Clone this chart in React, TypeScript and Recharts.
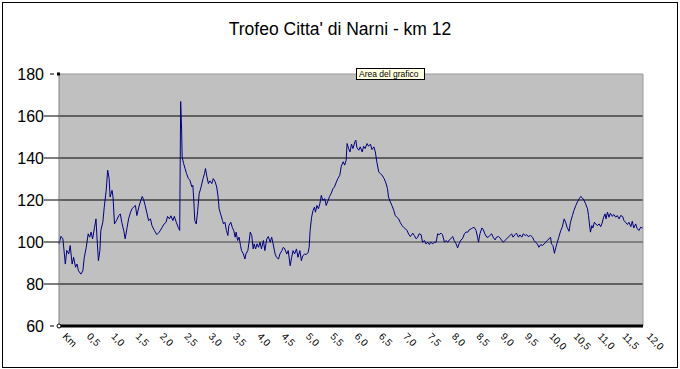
import React from "react";
import { LineChart, Line, XAxis, YAxis, CartesianGrid, ReferenceLine } from "recharts";

const chartTitle = "Trofeo Citta' di Narni - km 12";
const hintText = "Area del grafico";

const yTicks = [60, 80, 100, 120, 140, 160, 180];
const yGridValues = [80, 120, 140, 160];

const xTicks = [0, 0.5, 1, 1.5, 2, 2.5, 3, 3.5, 4, 4.5, 5, 5.5, 6, 6.5, 7, 7.5, 8, 8.5, 9, 9.5, 10, 10.5, 11, 11.5, 12];
const xLabels = ["Km", "0,5", "1,0", "1,5", "2,0", "2,5", "3,0", "3,5", "4,0", "4,5", "5,0", "5,5", "6,0", "6,5", "7,0", "7,5", "8,0", "8,5", "9,0", "9,5", "10,0", "10,5", "11,0", "11,5", "12,0"];

// [km, bpm]
const trace: [number, number][] = [
  [0, 99], [0.04, 102.7], [0.08, 101.5], [0.13, 89.5], [0.16, 96], [0.2, 94.3], [0.23, 98.3], [0.27, 89.5],
  [0.3, 92.7], [0.34, 88], [0.37, 89.5], [0.4, 86.3], [0.45, 84.7], [0.49, 86.3], [0.52, 92.7], [0.56, 97.5],
  [0.6, 103.9], [0.63, 102.3], [0.66, 104.7], [0.69, 101.5], [0.73, 107], [0.76, 111], [0.78, 102.3], [0.81, 91.1],
  [0.84, 95.9], [0.86, 105.5], [0.9, 109.4], [0.93, 116.6], [0.97, 124.6], [1.0, 134.2], [1.03, 130.2], [1.05, 121.4],
  [1.09, 124.6], [1.11, 121.4], [1.14, 108.6], [1.18, 110.2], [1.23, 112.6], [1.26, 113.4], [1.29, 109.4], [1.33, 105.5],
  [1.36, 101.5], [1.4, 107], [1.43, 111], [1.47, 114.2], [1.5, 115.8], [1.53, 116.6], [1.57, 117.4], [1.6, 112.6],
  [1.64, 116.6], [1.67, 119], [1.71, 121.7], [1.74, 120.1], [1.77, 117.4], [1.81, 113.4], [1.84, 110.2], [1.88, 111],
  [1.91, 107.8], [1.96, 105.5], [2.01, 103.5], [2.06, 104.7], [2.12, 107], [2.16, 108.6], [2.2, 109.4], [2.23, 112.2],
  [2.27, 111], [2.3, 112.5], [2.34, 110.2], [2.37, 112.2], [2.41, 109.4], [2.45, 107], [2.48, 105.5], [2.5, 166.9],
  [2.52, 153.3], [2.53, 140.5], [2.56, 137.4], [2.59, 135], [2.62, 132.6], [2.66, 130.2], [2.69, 129.4], [2.73, 126.2],
  [2.75, 127], [2.77, 119.8], [2.79, 110.2], [2.82, 108.6], [2.85, 115], [2.88, 123], [2.92, 126.2], [2.96, 130.2],
  [2.99, 132.6], [3.01, 135], [3.04, 131], [3.07, 127.8], [3.1, 129.1], [3.14, 127.8], [3.17, 130.2], [3.21, 128.6],
  [3.24, 126.2], [3.27, 121.4], [3.29, 115.8], [3.32, 113.4], [3.36, 110.2], [3.38, 108.6], [3.41, 109.4], [3.44, 105.5],
  [3.47, 103.1], [3.49, 107.8], [3.53, 109.4], [3.56, 107], [3.59, 105.5], [3.62, 102.3], [3.64, 104.7], [3.67, 100.7],
  [3.7, 102.3], [3.73, 98.3], [3.75, 95.9], [3.79, 94.3], [3.82, 91.9], [3.84, 94.3], [3.88, 95.9], [3.9, 99.1],
  [3.93, 104.7], [3.96, 103.1], [3.99, 96.7], [4.01, 99.1], [4.04, 96.7], [4.07, 99.1], [4.1, 97.5], [4.13, 99.9],
  [4.16, 96.7], [4.2, 100.7], [4.23, 95.9], [4.27, 101.5], [4.3, 102.6], [4.34, 99.9], [4.37, 102.3], [4.4, 99.1],
  [4.44, 94.3], [4.47, 92.7], [4.51, 91.9], [4.54, 94.3], [4.58, 95.9], [4.61, 97.5], [4.64, 96.7], [4.68, 94.3],
  [4.71, 95.9], [4.75, 88.7], [4.78, 92.7], [4.81, 95.9], [4.84, 94.3], [4.88, 96.7], [4.91, 92.7], [4.95, 95.9],
  [4.98, 91.1], [5.01, 93.5], [5.05, 94.3], [5.08, 94], [5.12, 95.1], [5.14, 97.5], [5.16, 105.5], [5.19, 111.8],
  [5.22, 115], [5.25, 116.6], [5.27, 114.2], [5.3, 117.4], [5.33, 115.8], [5.36, 118.2], [5.39, 122.2], [5.42, 119.8],
  [5.46, 120.6], [5.49, 117.4], [5.53, 119.8], [5.56, 121.7], [5.59, 123], [5.63, 125.4], [5.66, 126.2], [5.7, 128.6],
  [5.73, 130.2], [5.77, 131.8], [5.8, 136.1], [5.84, 138.2], [5.87, 136.6], [5.9, 138.9], [5.92, 146.9], [5.95, 144.5],
  [5.98, 142.9], [6.01, 146.6], [6.04, 144.5], [6.08, 147.7], [6.1, 148.5], [6.12, 145], [6.16, 143.7], [6.19, 145.3],
  [6.23, 142.9], [6.26, 145.6], [6.29, 144.5], [6.33, 146.9], [6.36, 145.6], [6.4, 146.6], [6.43, 144], [6.47, 145.3],
  [6.5, 142.9], [6.53, 138.2], [6.57, 133.4], [6.6, 132.6], [6.64, 131.8], [6.68, 130.2], [6.71, 128.6], [6.75, 125.4],
  [6.77, 121.4], [6.81, 119], [6.84, 117.4], [6.88, 115], [6.91, 112.6], [6.94, 111.8], [6.98, 111], [7.01, 109.4],
  [7.05, 107.8], [7.08, 107], [7.12, 106.3], [7.15, 105.5], [7.19, 103.5], [7.22, 102.6], [7.27, 104.2], [7.3, 103.1],
  [7.34, 101.5], [7.37, 102.3], [7.4, 103.9], [7.44, 103.5], [7.47, 99.9], [7.51, 100.7], [7.54, 99.1], [7.58, 99.9],
  [7.61, 98.8], [7.64, 99.9], [7.68, 99.1], [7.71, 99.9], [7.75, 99.9], [7.78, 103.9], [7.81, 103.5], [7.85, 104.2],
  [7.88, 103.5], [7.92, 99.9], [7.95, 100.7], [7.99, 99.9], [8.02, 101], [8.05, 101.5], [8.09, 102.6], [8.12, 100.7],
  [8.16, 99.1], [8.19, 97.2], [8.22, 99.1], [8.26, 101], [8.29, 101.5], [8.33, 103.9], [8.36, 104.7], [8.4, 104.7],
  [8.43, 105.8], [8.47, 106.3], [8.5, 106.7], [8.53, 107], [8.57, 105.5], [8.6, 102.3], [8.62, 99.9], [8.65, 103.9],
  [8.69, 106.7], [8.72, 105.8], [8.75, 103.9], [8.79, 102.3], [8.82, 102.3], [8.85, 103.1], [8.89, 103.9], [8.92, 102.3],
  [8.96, 101], [8.99, 102.3], [9.03, 102.6], [9.06, 102], [9.09, 101], [9.13, 99.9], [9.16, 100.7], [9.2, 101.5],
  [9.23, 102.3], [9.27, 103.1], [9.3, 103.9], [9.33, 102.3], [9.37, 103.5], [9.4, 104.2], [9.44, 102.3], [9.47, 103.4],
  [9.51, 102.3], [9.54, 103.9], [9.58, 103.1], [9.61, 103.5], [9.64, 102.6], [9.69, 103.1], [9.73, 102.3], [9.76, 100.7],
  [9.79, 99.9], [9.83, 99.1], [9.86, 97.5], [9.9, 98.8], [9.93, 98.3], [9.97, 99.1], [10.0, 99.9], [10.03, 100.7],
  [10.07, 101.5], [10.1, 102.3], [10.12, 99.1], [10.15, 98.3], [10.18, 94.6], [10.21, 97.5], [10.24, 99.9], [10.27, 102.3],
  [10.31, 105.5], [10.34, 107], [10.38, 111], [10.41, 109.4], [10.44, 107], [10.48, 105.1], [10.51, 109.4], [10.55, 112.6],
  [10.58, 115], [10.62, 117.4], [10.65, 119], [10.69, 120.6], [10.72, 121.7], [10.75, 121.1], [10.79, 119.8], [10.82, 118.2],
  [10.86, 115.8], [10.88, 112.6], [10.9, 108.6], [10.92, 104.7], [10.95, 107.8], [10.97, 106.7], [11.0, 109.4], [11.03, 108.6],
  [11.06, 107.8], [11.1, 108.6], [11.13, 107.3], [11.16, 109], [11.19, 111.8], [11.22, 113.4], [11.24, 111], [11.27, 114.2],
  [11.3, 111.8], [11.33, 113.7], [11.37, 112.2], [11.4, 113.1], [11.44, 111.8], [11.47, 112.6], [11.51, 111], [11.54, 112.6],
  [11.58, 112.2], [11.61, 110.2], [11.64, 109.4], [11.68, 108.3], [11.71, 109.4], [11.75, 107.3], [11.78, 109.9], [11.81, 106.7],
  [11.85, 108.6], [11.88, 106.3], [11.92, 105.5], [11.95, 107], [11.99, 106.7],
];

const data = trace.map(([km, bpm]) => ({ km, bpm }));

const FONT = "Arial, 'Liberation Sans', sans-serif";

function XTick(props: any) {
  const { x, y, payload } = props;
  const label = xLabels[xTicks.indexOf(payload.value)] ?? "";
  const ax = x + 3;
  const ay = y + 11;
  return (
    <text x={ax} y={ay} transform={`rotate(45 ${ax} ${ay})`} fontSize={10} fontFamily={FONT} fill="#000">
      {label}
    </text>
  );
}

function YTick(props: any) {
  const { x, y, payload } = props;
  const v = payload.value;
  const edge = v === 180 || v === 60;
  return (
    <g>
      {edge ? (
        <line x1={x - 9} y1={y} x2={x - 5} y2={y} stroke="#000" />
      ) : (
        <line x1={x - 15} y1={y} x2={x} y2={y} stroke="#000" />
      )}
      {v === 180 && <rect x={x - 2} y={y - 1.5} width={3} height={3} fill="#000" />}
      {v === 60 && <circle cx={x} cy={y} r={2} fill="#fff" stroke="#000" />}
      <text x={x - 15} y={y} textAnchor="end" dominantBaseline="central" fontSize={16} fontFamily={FONT} fill="#000">
        {v}
      </text>
    </g>
  );
}

export default function App() {
  return (
    <div style={{ position: "fixed", left: 0, top: 0, width: 680, height: 369, background: "#fff", overflow: "hidden" }}>
      <div
        style={{
          position: "absolute",
          left: 2,
          top: 2,
          width: 676,
          height: 366,
          border: "1px solid #000",
          boxSizing: "border-box",
        }}
      />
      <div
        style={{
          position: "absolute",
          left: 0,
          top: 19,
          width: 680,
          textAlign: "center",
          fontFamily: FONT,
          fontSize: 17.5,
          lineHeight: "20px",
          color: "#000",
        }}
      >
        {chartTitle}
      </div>
      <div style={{ position: "absolute", left: 0, top: 0 }}>
        <LineChart width={680} height={369} data={data} margin={{ top: 74, right: 37, bottom: 3, left: 0 }}>
          <CartesianGrid fill="#C0C0C0" vertical={false} horizontalValues={yGridValues} stroke="#000" strokeOpacity={1} />
          <XAxis
            dataKey="km"
            type="number"
            domain={[0, 12]}
            ticks={xTicks}
            interval={0}
            height={40}
            tickSize={0}
            tickMargin={0}
            tickLine={false}
            axisLine={false}
            tick={<XTick />}
          />
          <YAxis
            domain={[60, 180]}
            ticks={yTicks}
            interval={0}
            width={59}
            tickSize={0}
            tickMargin={0}
            tickLine={false}
            axisLine={{ stroke: "#808080" }}
            tick={<YTick />}
          />
          <ReferenceLine y={180} stroke="#999" />
          <ReferenceLine x={12} stroke="#999" />
          <ReferenceLine y={100} stroke="#808080" strokeWidth={2} />
          <Line
            type="linear"
            dataKey="bpm"
            stroke="#000080"
            strokeWidth={1}
            dot={false}
            isAnimationActive={false}
          />
          <ReferenceLine y={60} stroke="#000" strokeWidth={3} />
        </LineChart>
      </div>
      <div
        style={{
          position: "absolute",
          left: 356,
          top: 68,
          width: 69,
          height: 12,
          background: "#FFFFE1",
          border: "1px solid #000",
          boxSizing: "border-box",
          fontFamily: FONT,
          fontSize: 8.5,
          lineHeight: "10px",
          paddingLeft: 2,
          whiteSpace: "nowrap",
          overflow: "hidden",
          color: "#000",
        }}
      >
        {hintText}
      </div>
    </div>
  );
}
